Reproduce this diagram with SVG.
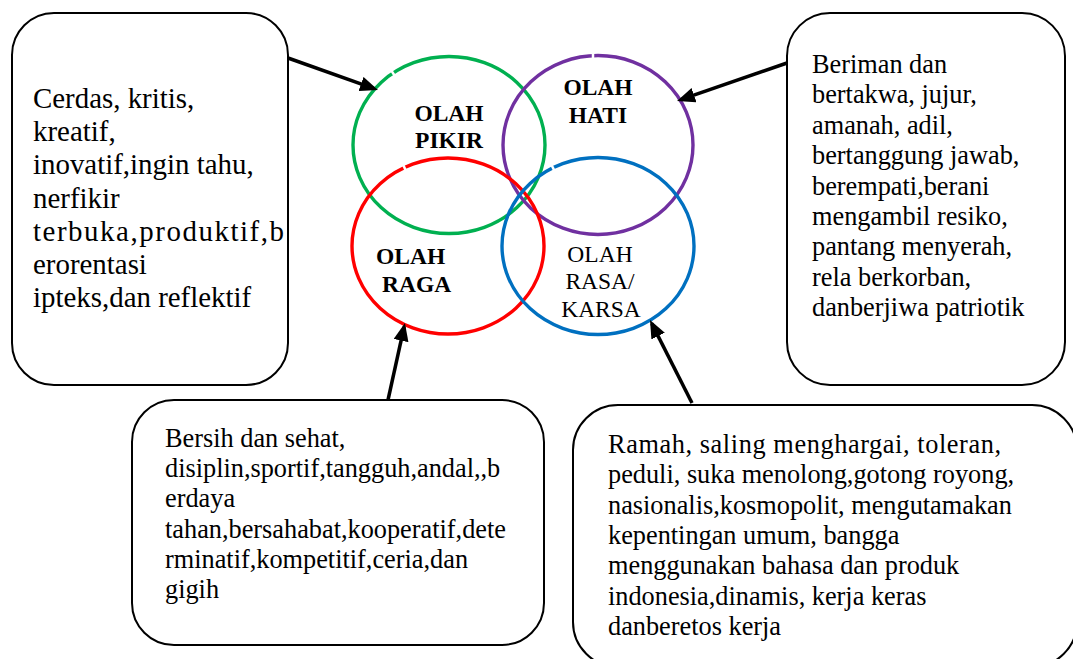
<svg xmlns="http://www.w3.org/2000/svg" width="1073" height="659" viewBox="0 0 1073 659">
<style>
.box{fill:#fff;stroke:#000;stroke-width:2}
.t{font-family:"Liberation Serif","Times New Roman",serif;fill:#000}
.t1{font-size:28.9px}
.t2{font-size:26.3px}
.lbl{font-family:"Liberation Serif","Times New Roman",serif;font-size:23.5px;fill:#000}
.b{font-weight:bold}
.ring{fill:none;stroke-width:3.4}
.gap{stroke:#fff;stroke-width:2.5}
.arr{stroke:#000;stroke-width:3.5;fill:none;marker-end:url(#ah)}
</style>
<defs>
<marker id="ah" markerUnits="userSpaceOnUse" markerWidth="18" markerHeight="15" refX="14" refY="7.5" orient="auto">
<path d="M0,0 L18,7.5 L0,15 z" fill="#000"/>
</marker>
</defs>
<rect width="1073" height="659" fill="#fff"/>

<g id="pikir">
<ellipse class="ring" cx="449" cy="145" rx="96" ry="88.5" stroke="#00b050"/>
<line class="gap" x1="394.9" y1="76" x2="390.5" y2="69.4"/>
<text class="lbl b" x="449" y="121" text-anchor="middle">OLAH</text>
<text class="lbl b" x="449" y="148" text-anchor="middle">PIKIR</text>
</g>
<g id="hati">
<ellipse class="ring" cx="598" cy="145" rx="95" ry="89.5" stroke="#7030a0"/>
<line class="gap" x1="593" y1="51" x2="593" y2="59"/>
<text class="lbl b" x="598" y="95" text-anchor="middle">OLAH</text>
<text class="lbl b" x="598" y="123" text-anchor="middle">HATI</text>
</g>
<g id="raga">
<ellipse class="ring" cx="448" cy="246" rx="96" ry="88" stroke="#ff0000"/>
<line class="gap" x1="405.7" y1="170.3" x2="402.3" y2="163.1"/>
<text class="lbl b" x="376" y="264">OLAH</text>
<text class="lbl b" x="382" y="292">RAGA</text>
</g>
<g id="rasa">
<ellipse class="ring" cx="598" cy="246" rx="96" ry="88.5" stroke="#0070c0"/>
<line class="gap" x1="554.5" y1="170.9" x2="550.9" y2="163.7"/>
<text class="lbl" x="600" y="262" text-anchor="middle">OLAH</text>
<text class="lbl" x="600" y="289" text-anchor="middle">RASA/</text>
<text class="lbl" x="601" y="317" text-anchor="middle">KARSA</text>
</g>

<g id="box-pikir">
<rect class="box" x="12" y="13" width="276" height="372" rx="42"/>
<text class="t t1">
<tspan x="33" y="108">Cerdas, kritis,</tspan>
<tspan x="33" y="141.2">kreatif,</tspan>
<tspan x="33" y="174.4">inovatif,ingin tahu,</tspan>
<tspan x="33" y="207.6">nerfikir</tspan>
<tspan x="33" y="240.8" textLength="251">terbuka,produktif,b</tspan>
<tspan x="33" y="274">erorentasi</tspan>
<tspan x="33" y="307.2">ipteks,dan reflektif</tspan>
</text>
</g>
<g id="box-hati">
<rect class="box" x="787" y="13" width="278" height="372" rx="43"/>
<text class="t t2">
<tspan x="812" y="73">Beriman dan</tspan>
<tspan x="812" y="103.4">bertakwa, jujur,</tspan>
<tspan x="812" y="133.8">amanah, adil,</tspan>
<tspan x="812" y="164.2">bertanggung jawab,</tspan>
<tspan x="812" y="194.6">berempati,berani</tspan>
<tspan x="812" y="225">mengambil resiko,</tspan>
<tspan x="812" y="255.4">pantang menyerah,</tspan>
<tspan x="812" y="285.8">rela berkorban,</tspan>
<tspan x="812" y="316.2">danberjiwa patriotik</tspan>
</text>
</g>
<g id="box-raga">
<rect class="box" x="132" y="400" width="412" height="245" rx="42"/>
<text class="t t2">
<tspan x="165" y="447">Bersih dan sehat,</tspan>
<tspan x="165" y="477.2">disiplin,sportif,tangguh,andal,,b</tspan>
<tspan x="165" y="507.4">erdaya</tspan>
<tspan x="165" y="537.6">tahan,bersahabat,kooperatif,dete</tspan>
<tspan x="165" y="567.8">rminatif,kompetitif,ceria,dan</tspan>
<tspan x="165" y="598">gigih</tspan>
</text>
</g>
<g id="box-rasa">
<rect class="box" x="573" y="405" width="504" height="262" rx="45"/>
<text class="t t2">
<tspan x="608" y="453" textLength="393">Ramah, saling menghargai, toleran,</tspan>
<tspan x="608" y="483.3">peduli, suka menolong,gotong royong,</tspan>
<tspan x="608" y="513.6">nasionalis,kosmopolit, mengutamakan</tspan>
<tspan x="608" y="543.9">kepentingan umum, bangga</tspan>
<tspan x="608" y="574.2">menggunakan bahasa dan produk</tspan>
<tspan x="608" y="604.5">indonesia,dinamis, kerja keras</tspan>
<tspan x="608" y="634.8">danberetos kerja</tspan>
</text>
</g>

<g id="connectors">
<line class="arr" x1="288" y1="58" x2="374.2" y2="88.7"/>
<line class="arr" x1="787" y1="63" x2="680.8" y2="99.7"/>
<line class="arr" x1="388" y1="400" x2="404.1" y2="326.9"/>
<line class="arr" x1="692" y1="403" x2="651.8" y2="323.6"/>
</g>
</svg>
